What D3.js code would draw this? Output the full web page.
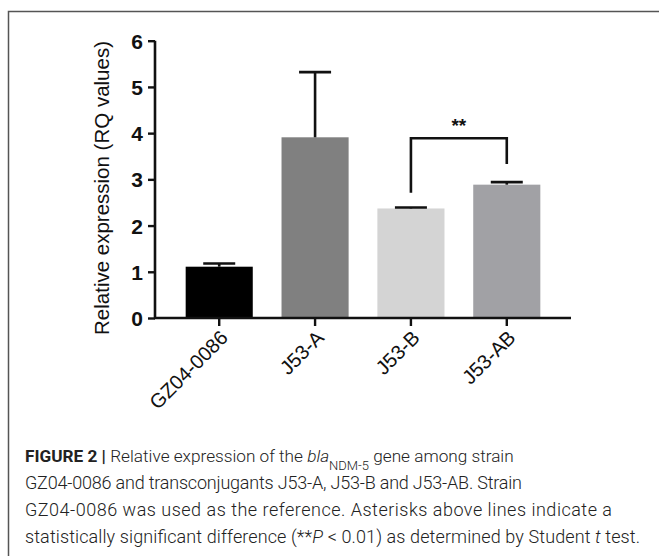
<!DOCTYPE html>
<html>
<head>
<meta charset="utf-8">
<script src="https://cdn.jsdelivr.net/npm/d3@7"></script>
<style>
  body { margin: 0; background: #fff; }
  svg { display: block; }
</style>
</head>
<body>
<div id="chart"></div>
<script>
// data
const strains = ["GZ04-0086", "J53-A", "J53-B", "J53-AB"];
const rqMeans = [1.11, 3.91, 2.37, 2.885];
const rqErrTop = [1.18, 5.32, 2.39, 2.94];
const barColors = ["#000000", "#808080", "#d4d4d4", "#a1a1a5"];
const yTicks = [0, 1, 2, 3, 4, 5, 6];
// significance bracket: pair, then [bracket level, left leg end, right leg end]
const sigPair = ["J53-B", "J53-AB"];
const sigLevels = [3.89, 2.71, 3.33];
const sigLabel = "**";

const W = 659, H = 556;
const svg = d3.select("#chart").append("svg")
    .attr("width", W)
    .attr("height", H);

// frame around figure + caption
svg.append("path")
    .attr("d", "M8.5," + H + " V11.5 H" + W)
    .attr("fill", "none")
    .attr("stroke", "#555")
    .attr("stroke-width", 1.5);

const x = d3.scaleBand()
    .domain(strains)
    .range([155, 571])
    .paddingInner(0.3)
    .paddingOuter(0.32);

const y = d3.scaleLinear()
    .domain([0, 6])
    .range([318, 40.7]);

const plot = svg.append("g").attr("class", "plot");

// bars
plot.selectAll(".bar")
    .data(strains)
    .enter()
    .append("rect")
    .attr("class", "bar")
    .attr("x", d => x(d))
    .attr("y", (d, i) => y(rqMeans[i]))
    .attr("width", x.bandwidth())
    .attr("height", (d, i) => y(0) - y(rqMeans[i]))
    .attr("fill", (d, i) => barColors[i]);

// error bars (upper only)
const capW = 32;
const err = plot.selectAll(".err")
    .data(strains)
    .enter()
    .append("g")
    .attr("class", "err")
    .attr("stroke", "#111")
    .attr("stroke-width", 2.6);

err.append("line")
    .attr("x1", d => x(d) + x.bandwidth() / 2)
    .attr("x2", d => x(d) + x.bandwidth() / 2)
    .attr("y1", (d, i) => y(rqMeans[i]))
    .attr("y2", (d, i) => y(rqErrTop[i]));

err.append("line")
    .attr("x1", d => x(d) + x.bandwidth() / 2 - capW / 2)
    .attr("x2", d => x(d) + x.bandwidth() / 2 + capW / 2)
    .attr("y1", (d, i) => y(rqErrTop[i]))
    .attr("y2", (d, i) => y(rqErrTop[i]));

// y axis
const yAxis = d3.axisLeft(y)
    .tickValues(yTicks)
    .tickFormat(d3.format("d"))
    .tickSize(7)
    .tickPadding(5);

const yG = plot.append("g")
    .attr("class", "y-axis")
    .attr("transform", "translate(155,0)")
    .call(yAxis);

yG.select(".domain")
    .attr("d", "M0," + y(6) + "V" + y(0))
    .attr("stroke", "#111")
    .attr("stroke-width", 2.6);
yG.selectAll(".tick line").attr("stroke", "#111").attr("stroke-width", 2.4);
yG.selectAll(".tick text")
    .attr("fill", "#111")
    .attr("dy", "0.36em")
    .style("font-family", "'Liberation Sans', Arial, sans-serif")
    .style("font-size", "21px")
    .style("font-weight", "bold");

// x axis
const xAxis = d3.axisBottom(x)
    .tickSize(8)
    .tickPadding(6);

const xG = plot.append("g")
    .attr("class", "x-axis")
    .attr("transform", "translate(0," + y(0) + ")")
    .call(xAxis);

xG.select(".domain")
    .attr("d", "M154,0H571")
    .attr("stroke", "#111")
    .attr("stroke-width", 2.6);
xG.selectAll(".tick line").attr("stroke", "#111").attr("stroke-width", 2.4);
xG.selectAll(".tick text")
    .attr("fill", "#111")
    .attr("text-anchor", "end")
    .attr("dy", null)
    .attr("transform", "translate(10,21) rotate(-45)")
    .attr("x", 0)
    .attr("y", 0)
    .style("font-family", "'Liberation Sans', Arial, sans-serif")
    .style("font-size", "20px");

// y axis title
plot.append("text")
    .attr("transform", "translate(109,188) rotate(-90)")
    .attr("text-anchor", "middle")
    .attr("fill", "#111")
    .style("font-family", "'Liberation Sans', Arial, sans-serif")
    .style("font-size", "20.5px")
    .text("Relative expression (RQ values)");

// significance bracket
const bx1 = x(sigPair[0]) + x.bandwidth() / 2;
const bx2 = x(sigPair[1]) + x.bandwidth() / 2;
plot.append("path")
    .attr("d", "M" + bx1 + "," + y(sigLevels[1]) + "V" + y(sigLevels[0]) + "H" + bx2 + "V" + y(sigLevels[2]))
    .attr("fill", "none")
    .attr("stroke", "#111")
    .attr("stroke-width", 2.6);

plot.append("text")
    .attr("x", (bx1 + bx2) / 2)
    .attr("y", y(sigLevels[0]) - 6)
    .attr("text-anchor", "middle")
    .attr("fill", "#111")
    .style("font-family", "'Liberation Sans', Arial, sans-serif")
    .style("font-size", "19px")
    .style("font-weight", "bold")
    .text(sigLabel);

// caption
const capFont = "Roboto, 'Liberation Sans', sans-serif";
const cap = svg.append("g")
    .attr("fill", "#222")
    .style("font-family", capFont)
    .style("font-size", "18px")
    .style("font-weight", 300);

const l1 = cap.append("text").attr("x", 25).attr("y", 462)
    .style("font-size", "17.2px");
l1.append("tspan").style("font-weight", "bold").text("FIGURE 2 | ");
l1.append("tspan").text("Relative expression of the ");
l1.append("tspan").style("font-style", "italic").text("bla");
l1.append("tspan").attr("baseline-shift", "sub").style("font-size", "13px").text("NDM-5");
l1.append("tspan").text(" gene among strain");

cap.append("text").attr("x", 25).attr("y", 489)
    .attr("textLength", 497).attr("lengthAdjust", "spacing")
    .text("GZ04-0086 and transconjugants J53-A, J53-B and J53-AB. Strain");
cap.append("text").attr("x", 25).attr("y", 516)
    .attr("textLength", 587).attr("lengthAdjust", "spacing")
    .text("GZ04-0086 was used as the reference. Asterisks above lines indicate a");

const l4 = cap.append("text").attr("x", 25).attr("y", 543)
    .attr("textLength", 615).attr("lengthAdjust", "spacing");
l4.append("tspan").text("statistically significant difference (**");
l4.append("tspan").style("font-style", "italic").text("P");
l4.append("tspan").text(" < 0.01) as determined by Student ");
l4.append("tspan").style("font-style", "italic").text("t");
l4.append("tspan").text(" test.");
</script>
</body>
</html>
